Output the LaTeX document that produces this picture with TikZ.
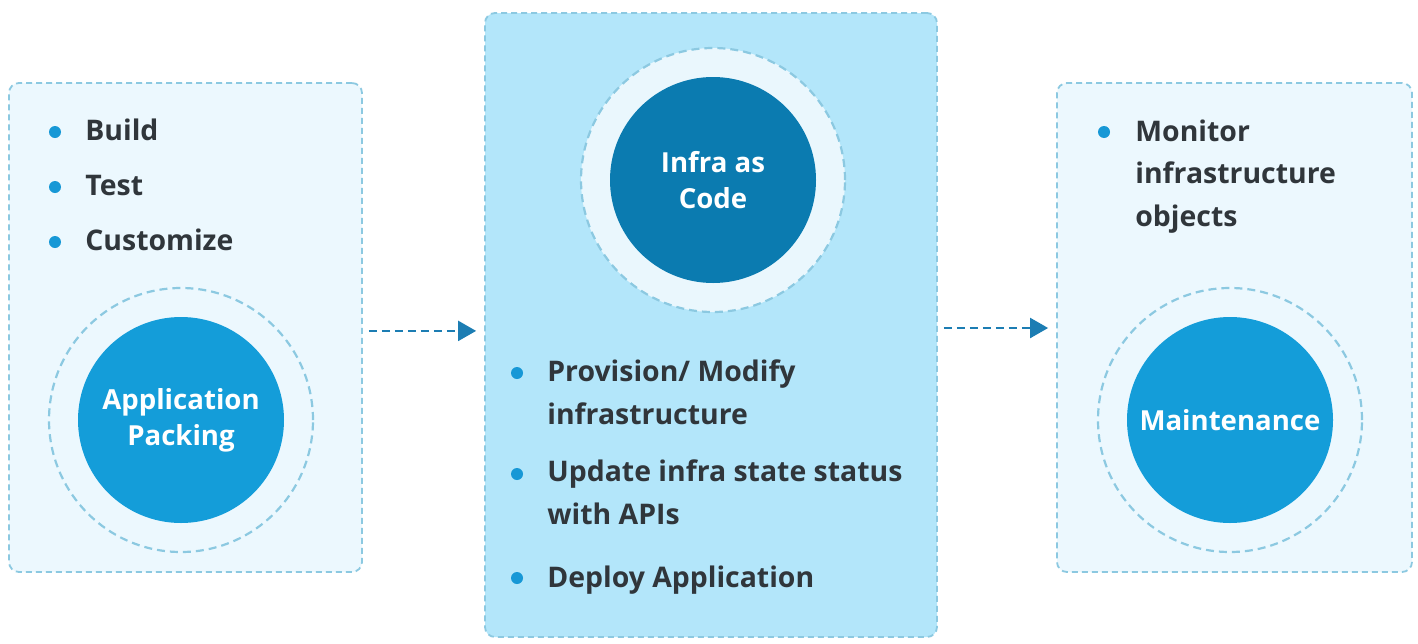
\documentclass[tikz,border=0pt]{standalone}
\usepackage{fontspec}
\setmainfont{Open Sans}
\usetikzlibrary{arrows.meta}
\definecolor{palefill}{HTML}{ECF8FE}
\definecolor{midfill}{HTML}{B3E6FA}
\definecolor{edgeblue}{HTML}{8CC9E1}
\definecolor{dotblue}{HTML}{1798D6}
\definecolor{discblue}{HTML}{149DD9}
\definecolor{discdark}{HTML}{0B7BB0}
\definecolor{ringfill}{HTML}{EAF7FD}
\definecolor{textdark}{HTML}{30363B}
\definecolor{arrowblue}{HTML}{1C7DB3}
\begin{document}
\begin{tikzpicture}[x=0.5pt,y=-0.5pt,
  panel/.style={draw=edgeblue, dash pattern=on 3pt off 2pt, line width=0.9pt,
    rounded corners=5pt, minimum height=244.5pt, inner sep=0pt},
  ring/.style={circle, draw=edgeblue, dash pattern=on 4pt off 2.5pt,
    line width=1.1pt, minimum size=132pt, inner sep=0pt},
  disc/.style={circle, fill=#1, minimum size=103pt, inner sep=0pt,
    text=white, align=center, font=\bfseries\fontsize{13.8}{18}\selectfont},
  item/.style={anchor=base west, inner sep=0pt, align=left, text=textdark,
    font=\bfseries\fontsize{14.2}{21.2}\selectfont},
  flow/.style={draw=arrowblue, line width=1.1pt, dash pattern=on 4pt off 2.5pt,
    -{Triangle[length=9pt, width=10pt]}, shorten <=3pt, shorten >=4pt}]
  \useasboundingbox (0,0) rectangle (1418,643);
  \fill[white] (0,0) rectangle (1418,643);

  % three stages
  \node[panel, fill=palefill, minimum width=176.5pt] (packbox) at (185.5,327.5) {};
  \node[panel, fill=midfill, minimum width=226pt, minimum height=312pt] (iacbox) at (711,325) {};
  \node[panel, fill=palefill, minimum width=177.5pt] (maintbox) at (1234.5,327.5) {};

  \draw[flow] ([yshift=-1.7pt]packbox.east) -- ([yshift=-1.7pt]packbox.east -| iacbox.west);
  \draw[flow] ([yshift=-1.5pt]iacbox.east) -- ([yshift=-1.5pt]iacbox.east -| maintbox.west);

  % circles
  \node[ring, fill=palefill] (packring) at (181,420) {};
  \node[disc=discblue] (packdisc) at (181,420) {Application\\Packing};
  \node[ring, fill=ringfill] (iacring) at (713,180) {};
  \node[disc=discdark] (iacdisc) at (713,180) {Infra as\\Code};
  \node[ring, fill=palefill] (maintring) at (1230,420) {};
  \node[disc=discblue] (maintdisc) at (1230,420) {Maintenance};

  % bullets
  \foreach \txt/\yy in {Build/140, Test/195, Customize/250} {
    \fill[dotblue] (55,\yy-8) circle (3pt);
    \node[item] (pack\yy) at (85,\yy) {\txt};
  }
  \foreach \yy in {373, 474, 578}
    \fill[dotblue] (517,\yy) circle (3pt);
  \node[item] (iac382) at (547,424) {Provision/ Modify\\infrastructure};
  \node[item] (iac483) at (547,524) {Update infra state status\\with APIs};
  \node[item] (iac587) at (547,587) {Deploy Application};
  \fill[dotblue] (1104,132) circle (3pt);
  \node[item] (maint140) at (1135,226) {Monitor\\infrastructure\\objects};
\end{tikzpicture}
\end{document}
